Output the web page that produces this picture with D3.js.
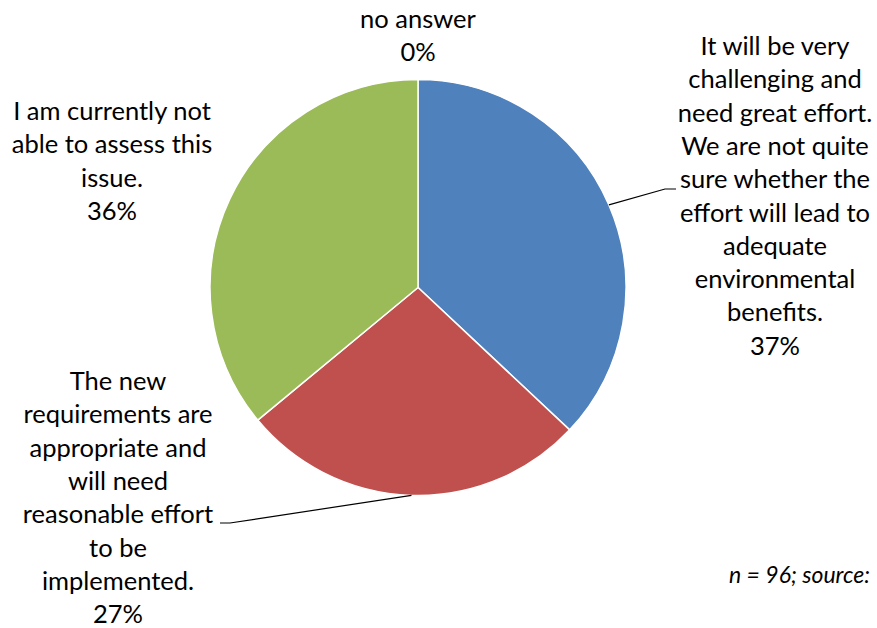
<!DOCTYPE html>
<html>
<head>
<meta charset="utf-8">
<script src="https://cdn.jsdelivr.net/npm/d3@7"></script>
<style>
  html, body { margin: 0; padding: 0; background: #fff; }
  svg { display: block; }
  text { font-family: Lato, "Open Sans", sans-serif; fill: #000; }
</style>
</head>
<body>
<svg id="chart" width="877" height="628"></svg>
<script>
// Survey answers, drawn clockwise from twelve o'clock
const categories = [
  "It will be very challenging and need great effort. We are not quite sure whether the effort will lead to adequate environmental benefits.",
  "The new requirements are appropriate and will need reasonable effort to be implemented.",
  "I am currently not able to assess this issue.",
  "no answer"
];
const shares = [37, 27, 36, 0];
const colors = ["#4F81BD", "#C0504D", "#9BBB59", "#8064A2"];

// Label text broken into lines as it is set on the chart
const labelLines = [
  ["It will be very", "challenging and", "need great effort.", "We are not quite", "sure whether the", "effort will lead to", "adequate", "environmental", "benefits."],
  ["The new", "requirements are", "appropriate and", "will need", "reasonable effort", "to be", "implemented."],
  ["I am currently not", "able to assess this", "issue."],
  ["no answer"]
];
const note = "n = 96; source:";

const svg = d3.select("#chart");
const cx = 418, cy = 287.5, r = 208;
const fontSize = 25.5, lineH = 33.3;

const pie = d3.pie().sort(null).value(d => d)(shares);
const arc = d3.arc().innerRadius(0).outerRadius(r);

const g = svg.append("g").attr("transform", `translate(${cx},${cy})`);
g.selectAll("path.slice")
  .data(pie.filter(d => d.value > 0))
  .join("path")
  .attr("class", "slice")
  .attr("d", arc)
  .attr("fill", d => colors[d.index])
  .attr("stroke", "#fff")
  .attr("stroke-width", 1.5);

// Label block placement: centre x and first baseline
const labelPos = [
  { x: 775, y: 55 },
  { x: 118, y: 390 },
  { x: 112, y: 120 },
  { x: 418, y: 28 }
];

labelLines.forEach((lines, i) => {
  const t = svg.append("text")
    .attr("text-anchor", "middle")
    .attr("font-size", fontSize);
  const all = lines.concat([d3.format(".0%")(shares[i] / 100)]);
  all.forEach((s, k) => {
    t.append("tspan")
      .attr("x", labelPos[i].x)
      .attr("y", labelPos[i].y + k * lineH)
      .text(s);
  });
});

// Leader lines from slice edge to the label
const onEdge = d => {
  const a = (d.startAngle + d.endAngle) / 2;
  return [cx + r * Math.sin(a), cy - r * Math.cos(a)];
};
const leaders = [
  { i: 0, pts: [[665, 189], [676, 189]] },
  { i: 1, pts: [[230, 523], [220, 523]] }
];
leaders.forEach(l => {
  const p = [onEdge(pie[l.i])].concat(l.pts);
  svg.append("path")
    .attr("d", d3.line()(p))
    .attr("fill", "none")
    .attr("stroke", "#000")
    .attr("stroke-width", 1.2);
});

svg.append("text")
  .attr("x", 870)
  .attr("y", 583)
  .attr("text-anchor", "end")
  .attr("font-size", 23)
  .attr("font-style", "italic")
  .text(note);
</script>
</body>
</html>
